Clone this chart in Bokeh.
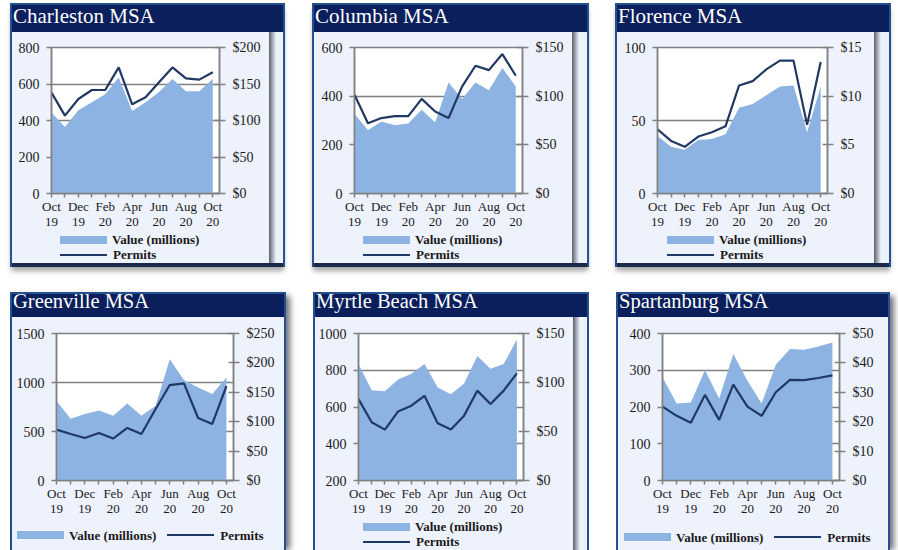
from bokeh.plotting import figure
from bokeh.models import (Range1d, LinearAxis, FixedTicker, PrintfTickFormatter, Div)
from bokeh.layouts import row, column
from bokeh.embed import file_html
from bokeh.resources import INLINE

# ---------------- data ----------------
months = ["Oct 19", "Nov 19", "Dec 19", "Jan 20", "Feb 20", "Mar 20", "Apr 20",
          "May 20", "Jun 20", "Jul 20", "Aug 20", "Sep 20", "Oct 20"]
tick_labels = ["Oct\n19", "", "Dec\n19", "", "Feb\n20", "", "Apr\n20", "",
               "Jun\n20", "", "Aug\n20", "", "Oct\n20"]

titles = ["Charleston MSA", "Columbia MSA", "Florence MSA",
          "Greenville MSA", "Myrtle Beach MSA", "Spartanburg MSA"]
series_names = ["Value (millions)", "Permits"]

# value of permits, $ millions (area, right axis)
charleston_value = [111, 91, 114, 125, 136, 159, 113, 125, 139, 157, 140, 140, 157]
columbia_value = [82, 65, 74, 70, 72, 86, 73, 114, 97, 114, 106, 129, 110]
florence_value = [5.9, 4.8, 4.5, 5.5, 5.6, 6.1, 8.8, 9.2, 10.1, 11.0, 11.1, 6.3, 11.0]
greenville_value = [135, 105, 113, 119, 110, 131, 110, 127, 206, 171, 158, 147, 175]
myrtle_value = [119, 92, 91, 103, 109, 119, 95, 88, 99, 127, 114, 119, 144]
spartanburg_value = [35.1, 26.2, 26.5, 37.6, 27.8, 43.0, 33.9, 26.2, 39.4, 44.7, 44.5, 45.6, 46.9]

# number of permits (line, left axis)
charleston_permits = [553, 427, 518, 567, 567, 691, 489, 527, 609, 691, 631, 624, 664]
columbia_permits = [406, 289, 310, 318, 318, 389, 337, 310, 439, 525, 507, 573, 484]
florence_permits = [44, 36, 32, 39, 42, 46, 74, 77, 85, 91, 91, 47, 90]
greenville_permits = [519, 475, 434, 485, 428, 536, 475, 730, 974, 991, 638, 577, 964]
myrtle_permits = [643, 517, 477, 576, 607, 661, 511, 477, 553, 689, 616, 689, 783]
spartanburg_permits = [201, 176, 157, 233, 165, 261, 201, 176, 240, 274, 273, 279, 286]

# axis ticks
charleston_left = [0, 200, 400, 600, 800]
charleston_right = [0, 50, 100, 150, 200]
columbia_left = [0, 200, 400, 600]
columbia_right = [0, 50, 100, 150]
florence_left = [0, 50, 100]
florence_right = [0, 5, 10, 15]
greenville_left = [0, 500, 1000, 1500]
greenville_right = [0, 50, 100, 150, 200, 250]
myrtle_left = [200, 400, 600, 800, 1000]
myrtle_right = [0, 50, 100, 150]
spartanburg_left = [0, 100, 200, 300, 400]
spartanburg_right = [0, 10, 20, 30, 40, 50]

# ---------------- styling / layout ----------------
FONT = "Liberation Serif"
NAVY = "#0A1F5C"
BLUE = "#24508F"
BOTTOM = "#1B2A4A"
BODY = "#EEF2FD"
AREA = "#8DB3E2"
LINE = "#1F3864"
GRAY = "#808080"
TXT = "#1A1A1A"
X_END = 12.5
SHADE_W = 7

# W,H: panel box; ml, mt: margins; th: title height; bh: body height;
# cw, ch: chart figure size; fb: frame borders (l, r, t, b);
# lg: legend block (margin-left inside body, height, orientation); tf: title font
SPEC = [
    dict(W=275, H=264, ml=10, mt=3, th=27, bh=231, inner=True, cw=257, ch=200,
         fb=(39, 50, 15, 39), lg=(48, 31, "vertical"), lh=23, tf=21),
    dict(W=277, H=264, ml=27, mt=3, th=27, bh=231, inner=True, cw=258, ch=200,
         fb=(40, 50, 15, 39), lg=(49, 31, "vertical"), lh=23, tf=21),
    dict(W=276, H=264, ml=26, mt=3, th=27, bh=231, inner=True, cw=257, ch=200,
         fb=(40, 47, 15, 39), lg=(50, 31, "vertical"), lh=23, tf=21),
    dict(W=276, H=258, ml=10, mt=25, th=23, bh=233, inner=False, cw=272, ch=210,
         fb=(44, 51, 16, 47), lg=(5, 23, "horizontal"), lh=15, tf=20.5),
    dict(W=276, H=258, ml=27, mt=25, th=23, bh=233, inner=True, cw=258, ch=202,
         fb=(39, 50, 16, 39), lg=(48, 31, "vertical"), lh=15, tf=20.5),
    dict(W=274, H=258, ml=27, mt=25, th=23, bh=233, inner=False, cw=270, ch=212,
         fb=(44, 49, 16, 49), lg=(6, 21, "horizontal"), lh=15, tf=20.5),
]


def style_axis(ax):
    ax.axis_line_color = GRAY
    ax.axis_line_width = 1.5
    ax.major_tick_line_color = GRAY
    ax.major_tick_line_width = 1.5
    ax.minor_tick_line_color = None
    ax.major_label_text_font = FONT
    ax.major_label_text_color = TXT


def make_chart(idx, values, permits, left_ticks, right_ticks):
    s = SPEC[idx]
    bl, br, bt, bb = s["fb"]
    p = figure(width=s["cw"], height=s["ch"], output_backend="svg", toolbar_location=None,
               x_range=Range1d(0, X_END),
               y_range=Range1d(left_ticks[0], left_ticks[-1]),
               min_border_left=bl, min_border_right=br,
               min_border_top=bt, min_border_bottom=bb,
               background_fill_color="white", border_fill_color=BODY,
               outline_line_color=GRAY, outline_line_width=1.5)
    p.extra_y_ranges = {"val": Range1d(right_ticks[0], right_ticks[-1])}

    xs = list(range(len(months)))
    p.varea(x=xs, y1=[right_ticks[0]] * len(xs), y2=values, y_range_name="val",
            fill_color=AREA, fill_alpha=1)
    p.line(x=xs, y=permits, line_color=LINE, line_width=2.2)

    xa = p.xaxis[0]
    xa.ticker = FixedTicker(ticks=xs)
    xa.major_label_overrides = {i: lab for i, lab in enumerate(tick_labels)}
    xa.major_tick_out = 4
    xa.major_tick_in = 0
    xa.major_label_standoff = 1
    xa.major_label_text_font_size = "13px"
    xa.major_label_text_line_height = 1.0

    ya = p.yaxis[0]
    ya.ticker = FixedTicker(ticks=left_ticks)
    ya.major_tick_out = 5
    ya.major_tick_in = 0
    ya.major_label_standoff = 7
    ya.major_label_text_font_size = "14px"

    ra = LinearAxis(y_range_name="val", ticker=FixedTicker(ticks=right_ticks),
                    formatter=PrintfTickFormatter(format="$%d"))
    ra.major_tick_out = 6
    ra.major_tick_in = 5
    ra.major_label_standoff = 7
    ra.major_label_text_font_size = "14px"
    p.add_layout(ra, "right")

    for ax in (xa, ya, ra):
        style_axis(ax)

    p.xgrid.visible = False
    p.ygrid.ticker = FixedTicker(ticks=left_ticks)
    p.ygrid.grid_line_color = GRAY
    p.ygrid.grid_line_width = 1.5
    p.toolbar.logo = None
    return p


def make_legend(idx):
    s = SPEC[idx]
    mleft, h, orient = s["lg"]
    font = (f"font-family:'{FONT}',serif;font-weight:bold;font-size:13px;"
            f"color:{TXT};line-height:15px;")
    item = "display:flex;align-items:center;height:15px;white-space:nowrap;"
    sw_area = (f'<span style="display:inline-block;width:47px;height:8px;'
               f'background:{AREA};margin-right:5px"></span>')
    sw_line = (f'<span style="display:inline-block;width:47px;height:2px;'
               f'background:{LINE};margin-right:6px"></span>')
    items = [f'<div style="{item}">{sw_area}{series_names[0]}</div>',
             f'<div style="{item}">{sw_line}{series_names[1]}</div>']
    if orient == "vertical":
        html = f'<div style="{font}">{"".join(items)}</div>'
    else:
        html = f'<div style="{font}display:flex;gap:11px">{"".join(items)}</div>'
    return Div(text=html, width=s["cw"] - mleft, height=h, margin=(0, 0, 0, mleft))


def make_panel(idx, chart):
    s = SPEC[idx]
    tstyle = (f"display:inline-block;padding-left:1px;font-family:'{FONT}',serif;"
              f"font-size:{s['tf']}px;line-height:{s['lh']}px;color:white;white-space:nowrap")
    title = Div(text=f'<span style="{tstyle}">{titles[idx]}</span>',
                width=s["W"] - 4, height=s["th"], margin=(2, 0, 0, 2),
                styles={"background-color": NAVY, "overflow": "visible"})
    stack = column(chart, make_legend(idx))
    if s["inner"]:
        shade = Div(text="", width=SHADE_W, height=s["bh"], margin=0,
                    styles={"background": f"linear-gradient(to right, #5E6068, {BODY})"})
        body = row(stack, shade, margin=(0, 0, 0, 2))
    else:
        body = row(stack, margin=(0, 0, 0, 2))
    shadows = [f"inset 2px 0 0 {BLUE}", f"inset -2px 0 0 {BLUE}", f"inset 0 2px 0 {BLUE}"]
    if idx < 3:
        shadows.append(f"inset 0 -4px 0 {BOTTOM}")
        shadows.append("0 5px 5px -1px rgba(0,0,0,0.35)")
    if not s["inner"]:
        shadows.append("6px 2px 6px -2px rgba(50,50,60,0.7)")
    return column(title, body, width=s["W"], height=s["H"], margin=(s["mt"], 0, 0, s["ml"]),
                  styles={"background-color": BODY, "box-shadow": ", ".join(shadows)})


charts = [
    make_chart(0, charleston_value, charleston_permits, charleston_left, charleston_right),
    make_chart(1, columbia_value, columbia_permits, columbia_left, columbia_right),
    make_chart(2, florence_value, florence_permits, florence_left, florence_right),
    make_chart(3, greenville_value, greenville_permits, greenville_left, greenville_right),
    make_chart(4, myrtle_value, myrtle_permits, myrtle_left, myrtle_right),
    make_chart(5, spartanburg_value, spartanburg_permits, spartanburg_left, spartanburg_right),
]
panels = [make_panel(i, c) for i, c in enumerate(charts)]

root = column(row(*panels[:3]), row(*panels[3:]))
open("out.html", "w").write(file_html(root, INLINE))
